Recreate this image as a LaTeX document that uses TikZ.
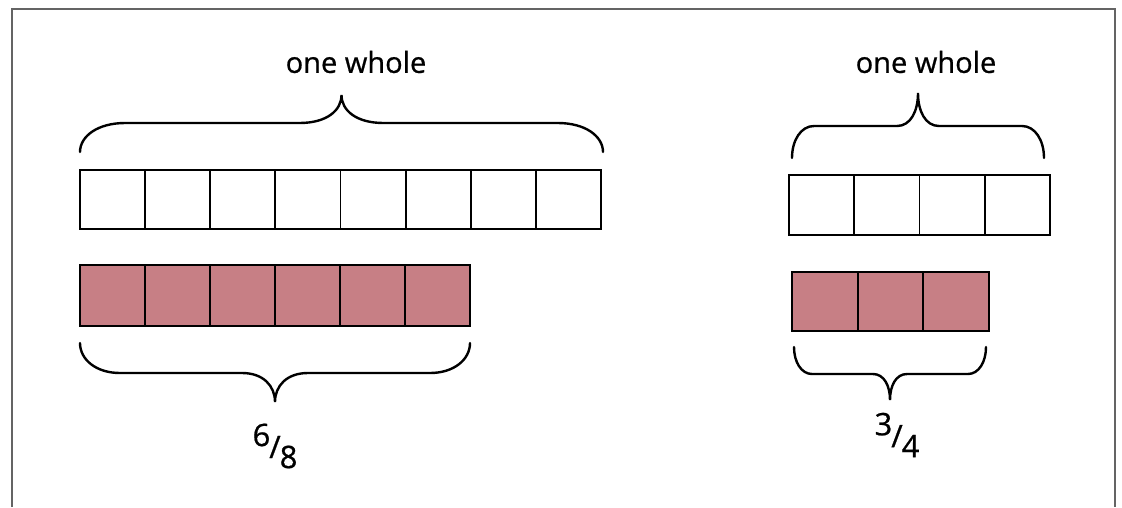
\documentclass[tikz,border=0pt]{standalone}
\usepackage{fontspec}
\setmainfont{Open Sans}[FakeBold=0.7]
\definecolor{pinkfill}{RGB}{199,127,133}
\definecolor{framegray}{RGB}{100,100,100}
\tikzset{
  frameline/.style={draw=framegray,line width=2.5pt},
  cellbar/.style={draw=black,line width=1.8pt},
  bracestroke/.style={draw=black,line width=2.4pt,line cap=round},
  lbl/.style={font=\fontsize{29}{35}\selectfont,inner sep=0pt},
  fraclbl/.style={font=\fontsize{31}{37}\selectfont,inner sep=0pt},
}
% #1 x1, #2 x2, #3 y of ends, #4 y of horizontal, #5 y of tip, #6 end radius, #7 mid half-width
\newcommand\mybrace[7]{%
  \pgfmathsetmacro\bxm{(#1+#2)/2}%
  \draw[bracestroke] (#1,#3) .. controls (#1,{#4+0.45*(#3-#4)}) and ({#1+0.4*#6},#4) .. ({#1+#6},#4)
    -- ({\bxm-#7},#4) .. controls ({\bxm-0.35*#7},#4) and (\bxm,{#4+0.45*(#5-#4)}) .. (\bxm,#5)
    .. controls (\bxm,{#4+0.45*(#5-#4)}) and ({\bxm+0.35*#7},#4) .. ({\bxm+#7},#4)
    -- ({#2-#6},#4) .. controls ({#2-0.4*#6},#4) and (#2,{#4+0.45*(#3-#4)}) .. (#2,#3);
}
% #1 x1, #2 x2, #3 ytop, #4 ybot, #5 number of cells, #6 fill
\newcommand\mybar[6]{%
  \pgfmathsetmacro\bcw{(#2-#1)/#5}%
  \filldraw[cellbar,fill=#6] (#1,#3) rectangle (#2,#4);
  \foreach \i in {1,...,#5}{\draw[cellbar] ({#1+\i*\bcw},#3) -- ({#1+\i*\bcw},#4);}
}
\begin{document}
\begin{tikzpicture}[x=1pt,y=-1pt]
  \useasboundingbox (0,0) rectangle (1122,507);
  \fill[white] (0,0) rectangle (1122,507);
  % frame
  \draw[frameline] (12,507) -- (12,9) -- (1115,9) -- (1115,507);
  % left group
  \mybar{80}{601}{170}{229}{8}{white}
  \mybar{80}{470}{265}{326}{6}{pinkfill}
  \mybrace{80}{603}{152}{123}{95}{45}{42}
  \mybrace{80}{470}{343}{373}{402}{40}{33}
  \node[lbl] (wholeL) at (356,62) {one whole};
  \node[fraclbl] (fracL) at (275,446) {\raisebox{10pt}{6}\kern-1pt\raisebox{-2pt}{/}\kern-1pt\raisebox{-12pt}{8}};
  % right group
  \mybar{789}{1050}{175}{235}{4}{white}
  \mybar{792}{989}{272}{331}{3}{pinkfill}
  \mybrace{792}{1044}{158}{126}{93}{22}{21}
  \mybrace{794}{986}{347}{374}{400}{18}{17}
  \node[lbl] (wholeR) at (926,62) {one whole};
  \node[fraclbl] (fracR) at (897,435) {\raisebox{10pt}{3}\kern-1pt\raisebox{-2pt}{/}\kern-1pt\raisebox{-12pt}{4}};
\end{tikzpicture}
\end{document}
